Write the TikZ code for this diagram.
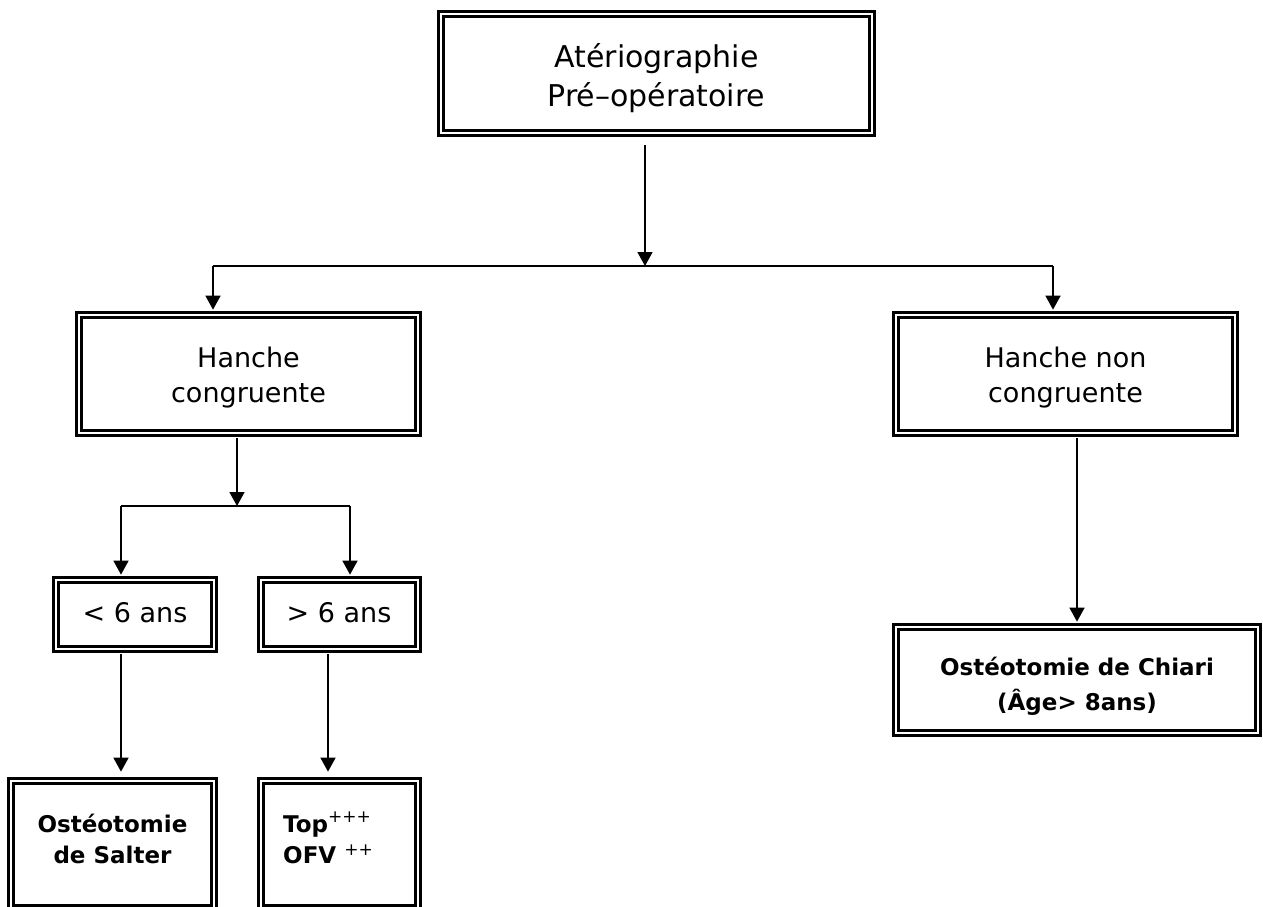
\documentclass[tikz,border=0pt]{standalone}
\usepackage{fontspec}
\setmainfont{DejaVu Sans}
\usetikzlibrary{arrows.meta,calc}
\begin{document}
\begin{tikzpicture}[x=1pt,y=-1pt,
 dbox/.style={rectangle,draw=black,line width=2.7pt,double=white,double distance=2.6pt,inner sep=0pt},
 arr/.style={line width=1.6pt,-{Triangle[length=14pt,width=15pt]}},
 conn/.style={line width=1.6pt},
 lbl/.style={anchor=base,inner sep=0pt,font=\fontsize{27}{27}\selectfont},
 tlbl/.style={anchor=base,inner sep=0pt,font=\fontsize{30}{30}\selectfont},
 blbl/.style={anchor=base,inner sep=0pt,font=\fontsize{23}{23}\selectfont\bfseries}]
\useasboundingbox (0,0) rectangle (1263,907);
% boxes
\node[dbox,minimum width=431pt,minimum height=119pt] (top) at (656.5,73.5) {};
\node[dbox,minimum width=339pt,minimum height=118pt] (hc) at (248.5,374) {};
\node[dbox,minimum width=339pt,minimum height=118pt] (hnc) at (1065.5,374) {};
\node[dbox,minimum width=158pt,minimum height=69pt] (lt6) at (135,614.5) {};
\node[dbox,minimum width=157pt,minimum height=69pt] (gt6) at (339.5,614.5) {};
\node[dbox,minimum width=203pt,minimum height=127pt] (salter) at (112.5,844.5) {};
\node[dbox,minimum width=157pt,minimum height=127pt] (topp) at (339.5,844.5) {};
\node[dbox,minimum width=362pt,minimum height=106pt] (chiari) at (1077,680) {};
% texts
\node[tlbl] (t1) at (656.5,67) {Atériographie};
\node[tlbl] (t2) at (656.5,106) {Pré–opératoire};
\node[lbl] (hc1) at (248.5,367) {Hanche};
\node[lbl] (hc2) at (248.5,402) {congruente};
\node[lbl] (hn1) at (1065.5,367) {Hanche non};
\node[lbl] (hn2) at (1065.5,402) {congruente};
\node[lbl] (l6) at (135,622) {< 6 ans};
\node[lbl] (g6) at (339,622) {> 6 ans};
\node[blbl] (s1) at (112.5,832) {Ostéotomie};
\node[blbl] (s2) at (112.5,863) {de Salter};
\node[blbl,anchor=base west] (p1) at (283,832) {Top\raisebox{10pt}{\fontsize{17}{17}\selectfont\mdseries +++}};
\node[blbl,anchor=base west] (p2) at (283,863) {OFV \raisebox{8pt}{\fontsize{17}{17}\selectfont\mdseries ++}};
\node[blbl] (c1) at (1077,675) {Ostéotomie de Chiari};
\node[blbl] (c2) at (1077,710) {(Âge> 8ans)};
% connectors
\coordinate (j1) at (645,266);
\coordinate (jl) at (213,266);
\coordinate (jr) at (1053,266);
\draw[arr] ($(top.south -| j1)+(0,11)$) -- (j1);
\draw[conn] (jl) -- (jr);
\draw[arr] (jl) -- ($(hc.north -| jl)+(0,-4)$);
\draw[arr] (jr) -- ($(hnc.north -| jr)+(0,-4)$);
\coordinate (j2) at (237,506);
\coordinate (jl2) at (121,506);
\coordinate (jr2) at (350,506);
\draw[arr] ($(hc.south -| j2)+(0,4)$) -- (j2);
\draw[conn] (jl2) -- (jr2);
\draw[arr] (jl2) -- ($(lt6.north -| jl2)+(0,-4)$);
\draw[arr] (jr2) -- ($(gt6.north -| jr2)+(0,-4)$);
\draw[arr] ($(lt6.south -| jl2)+(0,4)$) -- ($(salter.north -| jl2)+(0,-8)$);
\draw[arr] ($(gt6.south)+(-11.5,4)$) -- ($(topp.north)+(-11.5,-8)$);
\draw[arr] ($(hnc.south)+(11.5,4)$) -- ($(chiari.north)+(0,-4)$);
\end{tikzpicture}
\end{document}
